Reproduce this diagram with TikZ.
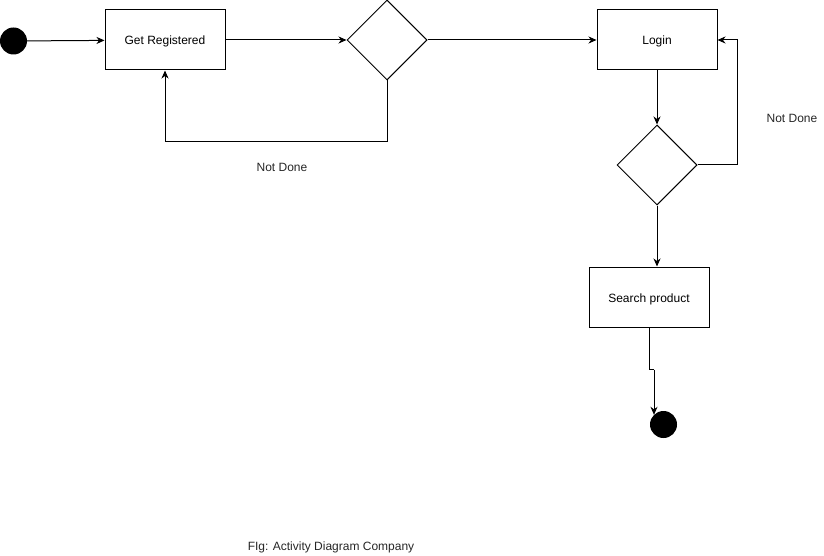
\documentclass[tikz,border=0pt]{standalone}
\usepackage{fontspec}
\setmainfont{Liberation Sans}
\usetikzlibrary{shapes.geometric,arrows.meta}
\begin{document}
\begin{tikzpicture}[x=1pt,y=-1pt,
  every node/.style={font=\fontsize{12}{14}\selectfont},
  action/.style={draw,line width=1pt,minimum width=120pt,minimum height=60pt,inner sep=0pt,text depth=0pt,text height=10pt},
  decision/.style={draw,diamond,line width=1pt,minimum width=80pt,minimum height=80pt,inner sep=0pt},
  terminal/.style={circle,fill=black,minimum size=27pt,inner sep=0pt},
  flow/.style={line width=1pt,-{Stealth[length=8pt,width=7pt,inset=2.5pt]}},
  lbl/.style={text=black!85}]
\useasboundingbox (0,0) rectangle (824,556);
% activities and decisions
\node[terminal] (start) at (13.5,41) {};
\node[action] (reg) at (165,40) {Get Registered};
\node[decision] (d1) at (387,40) {};
\node[action] (login) at (657,40) {Login};
\node[decision] (d2) at (657,165) {};
\node[action] (search) at (649,297) {Search product};
\node[terminal] (stop) at (663.5,424.5) {};
% labels
\node[lbl] (nd1) at (282,167) {Not Done};
\node[lbl] (nd2) at (792,118) {Not Done};
\node[lbl] (cap) at (331,547) {FIg: Activity Diagram Company};
% connectors
\draw[flow] (start) -- (reg);
\draw[flow] (reg) -- (d1);
\draw[flow] (d1) -- (login);
\draw[flow] (d1.south) -- ++(0,61) -| (reg.south);
\draw[flow] (login) -- (d2);
\draw[flow] (d2.east) -- ++(40,0) |- (login.east);
\draw[flow] (d2.south) -- (d2.south |- search.north);
\draw (search.south) -- ++(0,42) coordinate (j1) -- ++(5,0) coordinate (j2);
\draw[flow] (j2) -- (j2 |- stop.135);
\end{tikzpicture}
\end{document}
